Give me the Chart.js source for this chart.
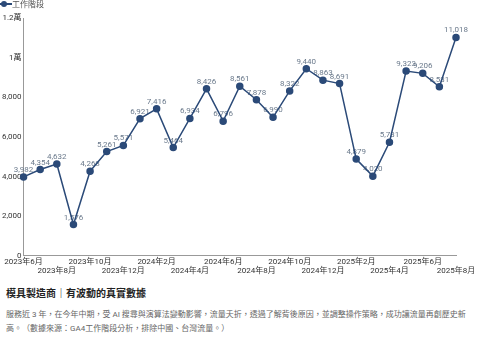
<!DOCTYPE html>
<html lang="zh-Hant">
<head>
<meta charset="utf-8">
<script src="https://cdn.jsdelivr.net/npm/chart.js@4/dist/chart.umd.min.js"></script>
<style>
  html, body { margin: 0; padding: 0; background: #fff; }
  body { width: 480px; height: 347px; overflow: hidden; font-family: Roboto, "Noto Sans CJK TC", sans-serif; }
  #wrap { position: relative; width: 480px; height: 277px; }
  .title { margin: 8px 0 0 6px; font-size: 10px; font-weight: bold; color: #222; }
  .desc { margin: 8px 4px 0 6px; font-size: 8px; line-height: 14px; color: #666; }
</style>
</head>
<body>
<div id="wrap"><canvas id="chart"></canvas></div>
<div class="title">模具製造商｜有波動的真實數據</div>
<div class="desc">服務近 3 年，在今年中期，受 AI 搜尋與演算法變動影響，流量夭折，透過了解背後原因，並調整操作策略，成功讓流量再創歷史新高。（數據來源：GA4工作階段分析，排除中國、台灣流量。）</div>
<script>
// 月份
const months = ['2023年6月','2023年7月','2023年8月','2023年9月','2023年10月','2023年11月','2023年12月',
  '2024年1月','2024年2月','2024年3月','2024年4月','2024年5月','2024年6月','2024年7月','2024年8月',
  '2024年9月','2024年10月','2024年11月','2024年12月','2025年1月','2025年2月','2025年3月','2025年4月',
  '2025年5月','2025年6月','2025年7月','2025年8月'];
// 工作階段
const sessions = [3982, 4354, 4632, 1576, 4268, 5261, 5571, 6921, 7416, 5464, 6934, 8426, 6796, 8561,
  7878, 6990, 8322, 9440, 8863, 8691, 4879, 4020, 5731, 9323, 9206, 8531, 11018];
const yTicks = [0, 2000, 4000, 6000, 8000, 10000, 12000];

const lineColor = '#2b4a78';

// 圖例圖示：線 + 圓點
function legendIcon() {
  const c = document.createElement('canvas');
  c.width = 16; c.height = 8;
  const g = c.getContext('2d');
  g.strokeStyle = lineColor; g.lineWidth = 2;
  g.beginPath(); g.moveTo(0, 4); g.lineTo(16, 4); g.stroke();
  g.fillStyle = lineColor;
  g.beginPath(); g.arc(8, 4, 3, 0, Math.PI * 2); g.fill();
  return c;
}

// 數值標籤
const valueLabels = {
  id: 'valueLabels',
  beforeDatasetsDraw(chart) {
    const ctx = chart.ctx;
    const meta = chart.getDatasetMeta(0);
    ctx.save();
    ctx.font = '8px Roboto, sans-serif';
    ctx.fillStyle = '#6b7a8c';
    ctx.textAlign = 'center';
    ctx.textBaseline = 'bottom';
    meta.data.forEach((pt, i) => {
      ctx.fillText(sessions[i].toLocaleString('en-US'), pt.x, pt.y - 3);
    });
    ctx.restore();
  }
};

new Chart(document.getElementById('chart'), {
  type: 'line',
  data: {
    labels: months,
    datasets: [{
      label: '工作階段',
      data: sessions,
      borderColor: lineColor,
      backgroundColor: lineColor,
      borderWidth: 1.5,
      pointRadius: 3,
      pointStyle: 'circle',
      tension: 0
    }]
  },
  options: {
    responsive: true,
    maintainAspectRatio: false,
    animation: false,
    layout: { padding: { left: 0, right: 24, top: 0, bottom: 0 } },
    plugins: {
      legend: {
        align: 'start',
        labels: {
          usePointStyle: true,
          pointStyle: legendIcon(),
          padding: 0,
          color: '#555',
          font: { size: 8, family: 'Noto Sans CJK TC' }
        }
      },
      tooltip: { enabled: false }
    },
    scales: {
      x: {
        offset: false,
        grid: { display: false, drawTicks: false },
        border: { color: '#999' },
        ticks: {
          autoSkip: false,
          maxRotation: 0,
          padding: 1,
          color: '#333',
          font: { size: 8, family: 'Roboto, Noto Sans CJK TC' },
          callback: function (val, i) {
            if (i % 2 !== 0) return '';
            return (i / 2) % 2 === 0 ? [months[i]] : ['', months[i]];
          }
        }
      },
      y: {
        min: 0,
        max: 12000,
        grid: { display: false, drawTicks: false },
        border: { color: '#999' },
        afterBuildTicks: axis => { axis.ticks = yTicks.map(v => ({ value: v })); },
        ticks: {
          padding: 2,
          color: '#333',
          font: { size: 8, family: 'Roboto, Noto Sans CJK TC' },
          callback: function (v) {
            if (v === 10000) return '1萬';
            if (v === 12000) return '1.2萬';
            return v.toLocaleString('en-US');
          }
        }
      }
    }
  },
  plugins: [valueLabels]
});
</script>
</body>
</html>
